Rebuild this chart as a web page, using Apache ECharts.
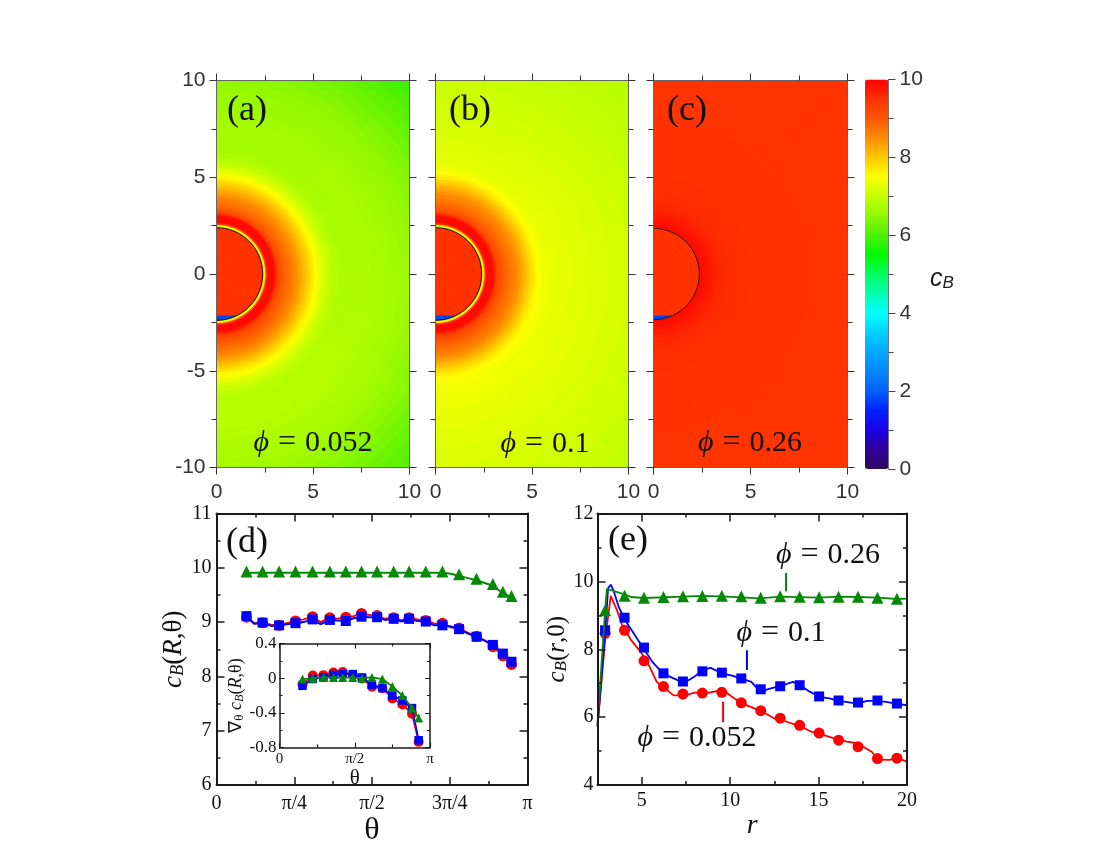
<!DOCTYPE html>
<html><head><meta charset="utf-8">
<style>html,body{margin:0;padding:0;background:#fff}#c{width:1100px;height:850px}</style>
<script src="https://cdn.jsdelivr.net/npm/echarts@6/dist/echarts.min.js"></script>
</head><body><div id="c"></div>
<script>
// colour scale stops of the colour bar, 0 to 10 in steps of 0.5
const colourStops = ['#2c0a5e','#300098','#1c00e8','#0020ff','#0060ff','#0088ff','#00a8ff','#00d0ff','#00ffff','#00ffb0','#00ff60','#00fa00','#4cf000','#90f800','#c4ff00','#ffff00','#ffc800','#ff8c00','#ff5800','#ff3200','#ff0000'];
// panels a-c: [outer radius, c_B], outermost first
const ringsA = [[14.4,5.98],[14,6.03],[13.5,6.1],[13,6.18],[12.5,6.26],[12,6.34],[11.5,6.43],[11,6.5],[10.5,6.58],[10,6.64],[9.5,6.68],[9,6.72],[8.5,6.76],[8,6.8],[7.5,6.8],[7,6.78],[6.6,6.8],[6.3,6.86],[6,6.95],[5.8,7.05],[5.6,7.2],[5.4,7.36],[5.2,7.52],[5.05,7.66],[4.9,7.82],[4.75,7.98],[4.6,8.12],[4.45,8.26],[4.3,8.4],[4.15,8.52],[4,8.64],[3.85,8.74],[3.7,8.84],[3.55,8.94],[3.4,9.06],[3.3,9.16],[3.2,9.28],[3.12,9.44],[3.06,9.7],[2.98,9.9],[2.62,9.75],[2.58,9.1],[2.51,7.6],[2.46,7.3],[2.42,6.7],[2.39,9.5]];
const ringsB = [[14.4,6.95],[13,7],[12,7.05],[11,7.1],[10,7.15],[9,7.2],[8,7.25],[7,7.3],[6.3,7.33],[5.8,7.38],[5.5,7.45],[5.3,7.55],[5.15,7.68],[5,7.82],[4.85,7.98],[4.7,8.12],[4.55,8.26],[4.4,8.4],[4.25,8.52],[4.1,8.64],[3.9,8.74],[3.75,8.84],[3.6,8.94],[3.45,9.06],[3.32,9.16],[3.22,9.28],[3.14,9.44],[3.07,9.7],[2.98,9.9],[2.62,9.75],[2.58,9.1],[2.51,7.6],[2.46,7.3],[2.42,6.7],[2.39,9.5]];
const ringsC = [[14.4,9.48],[8,9.5],[5,9.52],[4.2,9.54],[3.8,9.57],[3.5,9.62],[3.25,9.68],[3.05,9.74],[2.85,9.8],[2.65,9.85],[2.45,9.9],[2.36,9.5]];
// c_B change per 15 degree sector, from +y round to -y
const sectorTrimA = [-0.1,-0.1,-0.09,-0.07,-0.05,-0.02,0,0.02,0.05,0.07,0.08,0.08];
const sectorTrimB = [-0.08,-0.08,-0.07,-0.05,-0.03,-0.01,0,0.01,0.03,0.04,0.05,0.05];
const sectorTrimC = [0,0,0,0,0,0,0,0,0,0,0,0];
// particle: [radius, y of cap edge, c_B of cap]
const discA = [[2.39,-2.15,1.8]];
const discB = [[2.39,-2.15,1.8]];
const discC = [[2.36,-2.15,1.8]];

// panel d
const thetaRed = [0.303,0.465,0.632,0.798,0.97,1.145,1.306,1.465,1.622,1.79,1.945,2.114,2.282,2.45,2.627,2.792,2.893,2.98];
const dRed = [9.09,8.99,8.94,9.02,9.1,9.08,9.09,9.16,9.12,9.08,9.08,9.03,8.98,8.89,8.74,8.55,8.38,8.22];
const dBlue = [9.11,8.99,8.94,8.98,9.05,9.04,9.02,9.1,9.09,9.06,9.06,9.01,8.94,8.87,8.73,8.58,8.42,8.27];
const dGreen = [9.93,9.93,9.93,9.93,9.93,9.93,9.93,9.93,9.93,9.93,9.93,9.93,9.93,9.88,9.8,9.7,9.56,9.48];
const dLineTheta = [0.303,0.38,0.465,0.55,0.632,0.71,0.798,0.88,0.97,1.05,1.145,1.22,1.306,1.385,1.465,1.54,1.622,1.7,1.79,1.87,1.945,2.03,2.114,2.2,2.282,2.37,2.45,2.54,2.627,2.71,2.792,2.893,2.98];
const dLineRed = [9.09,8.98,8.99,8.95,8.94,8.98,9.02,9.05,9.1,9,9.08,9.06,9.09,9.11,9.16,9.13,9.12,9.06,9.08,9.03,9.08,9.05,9.03,8.97,8.98,8.9,8.89,8.8,8.74,8.66,8.55,8.38,8.22];
const dLineBlue = [9.11,8.97,8.99,8.93,8.94,8.96,8.98,9,9.05,8.96,9.04,9.03,9.02,9.07,9.1,9.09,9.09,9.04,9.06,9.01,9.06,9.02,9.01,8.94,8.94,8.92,8.87,8.79,8.73,8.66,8.58,8.42,8.27];
const dLineGreen = [9.91,9.91,9.91,9.91,9.91,9.91,9.91,9.91,9.91,9.91,9.91,9.91,9.91,9.91,9.91,9.91,9.91,9.91,9.91,9.91,9.91,9.91,9.91,9.91,9.91,9.89,9.85,9.81,9.77,9.72,9.67,9.53,9.46];
const thetaTickLabels = ['0','π/4','π/2','3π/4','π'];

// inset of panel d
const insetTheta = [0.48,0.695,0.917,1.126,1.32,1.53,1.724,1.93,2.148,2.356,2.565,2.766,2.905];
const insetRed = [-0.07,0.03,0.035,0.065,0.07,0.04,-0.004,-0.1,-0.115,-0.234,-0.303,-0.41,-0.735];
const insetBlue = [-0.088,-0.01,0.01,0.038,0.046,0.046,0.008,-0.077,-0.115,-0.2,-0.257,-0.345,-0.716];
const insetGreen = [-0.01,0,0.008,0.008,0.008,0.008,0,0.008,-0.01,-0.096,-0.2,-0.345,-0.46];
const insetTickLabels = ['0','π/2','π'];

// panel e
const rMajorTicks = [5,10,15,20];
const rMinorTicks = [7.5,12.5,17.5];
const rMarks = [2.93,4.03,5.13,6.23,7.33,8.43,9.53,10.63,11.73,12.83,13.93,15.03,16.13,17.23,18.33,19.43];
const eRed = [8.47,8.56,7.66,6.9,6.68,6.71,6.73,6.42,6.19,5.97,5.76,5.53,5.32,5.13,4.78,4.79];
const eBlue = [8.56,8.93,8.05,7.29,7.05,7.35,7.31,7.14,6.82,6.91,6.94,6.61,6.49,6.43,6.49,6.40];
const eGreen = [9.15,9.58,9.52,9.54,9.56,9.57,9.58,9.56,9.52,9.56,9.55,9.53,9.55,9.55,9.52,9.49];
const eLineRedR = [2.5,2.93,3.25,3.6,3.9,4.4,5,5.4,5.85,6.3,6.8,7.5,8,8.8,9.6,10.1,10.7,11.4,11.85,12.5,13,14,14.6,15.3,16.1,16.6,17.2,18,18.4,19,19.45,20];
const eLineRed = [5.72,8.27,9.57,9.15,8.7,8.27,7.88,7.53,7.04,6.85,6.64,6.65,6.72,6.72,6.8,6.6,6.4,6.25,6.16,5.96,5.9,5.72,5.57,5.47,5.34,5.28,5.23,4.98,4.75,4.74,4.79,4.69];
const eLineBlueR = [2.5,2.93,3.1,3.25,3.4,3.7,4.05,4.5,5.1,5.6,6.2,6.8,7.4,8,8.45,8.9,9.5,10.1,10.6,11.2,11.7,12.2,12.8,13.55,13.95,14.5,15.05,15.6,16.15,17.2,17.75,18.3,18.8,19.4,20];
const eLineBlue = [5.72,8.47,9.8,9.9,9.74,9.25,8.86,8.51,8.02,7.63,7.29,7.14,7.01,7.2,7.39,7.45,7.3,7.22,7.14,7.04,6.75,6.83,6.91,7.04,6.94,6.75,6.6,6.55,6.48,6.4,6.48,6.48,6.45,6.4,6.35];
const eLineGreenR = [2.5,2.93,3.03,4.03,4.4,5.13,7.33,8.43,9.53,11.7,12.83,15,16.13,17.23,18.33,19.43,20];
const eLineGreen = [5.8,9.15,9.78,9.62,9.54,9.51,9.55,9.57,9.56,9.5,9.55,9.52,9.55,9.54,9.52,9.48,9.49];
const markerGreen = [[13.16,10.25],[13.16,9.71]];
const markerBlue = [[10.95,7.97],[10.95,7.39]];
const markerRed = [[9.6,6.45],[9.6,5.86]];

const RED='#ff0000', BLUE='#0000ff', GREEN='#068a06';
const SANS='"Liberation Sans",Arial,sans-serif', SERIF='"Liberation Serif","Times New Roman",serif';
const zip=(a,b)=>a.map((v,i)=>[v,b[i]]);

const grid=[
 {left:216.5,top:80.5,width:193,height:387},
 {left:435.5,top:80.5,width:193,height:387},
 {left:653.5,top:80.5,width:194,height:387},
 {left:865,top:79.5,width:23.5,height:389.5},
 {left:216.5,top:513.5,width:311,height:271.5},
 {left:279.5,top:643.5,width:150.5,height:104},
 {left:597.5,top:513.5,width:309.5,height:271.5},
 {left:597.5,top:513.5,width:309.5,height:271.5}
];
const xAxis=[], yAxis=[];
function heatAxes(g,showY){
  const lineC='#666',tickC='#333';
  const base={gridIndex:g,type:'value',min:0,max:10,interval:5,splitLine:{show:false},z:10,
    minorTick:{show:true,splitNumber:2,length:5,lineStyle:{color:tickC,width:1}},
    axisTick:{show:true,inside:false,length:7,lineStyle:{color:tickC,width:1}},
    axisLine:{show:true,onZero:false,lineStyle:{color:lineC,width:1}}};
  xAxis.push({...base,position:'bottom',axisLabel:{show:true,fontFamily:SANS,fontSize:21,color:'#333',margin:14}});
  xAxis.push({...base,position:'top',axisLabel:{show:false}});
  yAxis.push({...base,min:-10,max:10,position:'left',axisLabel:{show:showY,fontFamily:SANS,fontSize:21,color:'#333',margin:11}});
  yAxis.push({...base,min:-10,max:10,position:'right',axisLabel:{show:false}});
}
heatAxes(0,true);heatAxes(1,false);heatAxes(2,false);
// colour bar axis
xAxis.push({gridIndex:3,type:'value',min:0,max:1,show:false});
xAxis.push({gridIndex:3,type:'value',min:0,max:1,show:false});
yAxis.push({gridIndex:3,type:'value',min:0,max:10,interval:2,position:'right',splitLine:{show:false},z:10,
  axisLine:{show:true,onZero:false,lineStyle:{color:'#777',width:1}},
  axisTick:{show:true,length:7,lineStyle:{color:'#444'}},
  minorTick:{show:true,splitNumber:2,length:5,lineStyle:{color:'#444'}},
  axisLabel:{fontFamily:SANS,fontSize:21,color:'#333',margin:11}});
yAxis.push({gridIndex:3,type:'value',min:0,max:10,show:false});
function graceAxes(g,x,y,fs,lw,major,minor){
  const line={show:true,onZero:false,lineStyle:{color:'#1a1a1a',width:lw}};
  const tick={show:true,inside:true,length:major,lineStyle:{color:'#1a1a1a',width:lw*0.75}};
  const mt={show:true,splitNumber:2,length:minor,lineStyle:{color:'#1a1a1a',width:lw*0.75}};
  const lab={fontFamily:SERIF,fontSize:fs,color:'#111'};
  const xTick={...tick,...(x.tickValues?{customValues:x.tickValues}:{})};
  const xMinor=x.tickValues?{show:false}:mt;
  const {tickValues,...xRest}=x;
  xAxis.push({gridIndex:g,type:'value',position:'bottom',splitLine:{show:false},z:10,axisLine:line,...xRest,axisTick:xTick,minorTick:xMinor,axisLabel:{...lab,...x.axisLabel}});
  xAxis.push({gridIndex:g,type:'value',position:'top',splitLine:{show:false},z:10,axisLine:line,axisTick:xTick,minorTick:xMinor,min:x.min,max:x.max,interval:x.interval,axisLabel:{show:false}});
  yAxis.push({gridIndex:g,type:'value',position:'left',splitLine:{show:false},z:10,axisLine:line,axisTick:tick,minorTick:mt,...y,axisLabel:{...lab,...y.axisLabel}});
  yAxis.push({gridIndex:g,type:'value',position:'right',splitLine:{show:false},z:10,axisLine:line,axisTick:tick,minorTick:mt,min:y.min,max:y.max,interval:y.interval,axisLabel:{show:false}});
}
const ylabRich=(fs)=>({i:{fontFamily:SERIF,fontStyle:'italic',fontSize:fs,color:'#111'},s:{fontFamily:SERIF,fontStyle:'italic',fontSize:fs*0.68,color:'#111',verticalAlign:'bottom',padding:[fs*0.3,0,0,0]},n:{fontFamily:SERIF,fontSize:fs,color:'#111'}});
graceAxes(4,
 {min:0,max:Math.PI,interval:Math.PI/4,name:'θ',nameLocation:'middle',nameGap:24,nameTextStyle:{fontFamily:SERIF,fontSize:32,color:'#111'},
  axisLabel:{margin:9,formatter:v=>thetaTickLabels[Math.round(v/(Math.PI/4))]}},
 {min:6,max:11,interval:1,name:'{i|c}{s|B}{n|(}{i|R}{n|,θ)}',nameLocation:'middle',nameGap:26,nameRotate:90,nameTextStyle:{rich:ylabRich(27)},axisLabel:{margin:5}},
 20,2,8,4);
graceAxes(5,
 {min:0,max:Math.PI,interval:Math.PI/2,name:'θ',nameLocation:'middle',nameGap:20,nameTextStyle:{fontFamily:SERIF,fontSize:21,color:'#111'},
  axisLabel:{margin:4,fontSize:15,formatter:v=>insetTickLabels[Math.round(v/(Math.PI/2))]}},
 {min:-0.8,max:0.4,interval:0.4,name:'∇{ss|θ} {i|c}{s|B}{n|(}{i|R}{n|,θ)}',nameLocation:'middle',nameGap:30,nameRotate:90,nameTextStyle:{fontFamily:SERIF,fontSize:18,color:'#111',rich:{...ylabRich(18),ss:{fontFamily:SERIF,fontSize:13,color:'#111',verticalAlign:'bottom'}}},axisLabel:{margin:3,fontSize:17}},
 17,1.5,5,3);
graceAxes(6,
 {min:2.5,max:20,interval:2.5,tickValues:rMajorTicks,name:'r',nameLocation:'middle',nameGap:17,nameTextStyle:{fontFamily:SERIF,fontStyle:'italic',fontSize:28,color:'#111'},
  axisLabel:{margin:6,customValues:rMajorTicks}},
 {min:4,max:12,interval:2,name:'{i|c}{s|B}{n|(}{i|r}{n|,0)}',nameLocation:'middle',nameGap:22,nameRotate:90,nameTextStyle:{rich:ylabRich(25)},axisLabel:{margin:4}},
 20,2,8,4);
// minor r ticks of panel e
const minorRTick={show:true,inside:true,length:4,customValues:rMinorTicks,lineStyle:{color:'#1a1a1a',width:1.5}};
xAxis.push({gridIndex:7,type:'value',position:'bottom',min:2.5,max:20,splitLine:{show:false},axisLine:{show:false,onZero:false},axisTick:minorRTick,axisLabel:{show:false},z:10});
xAxis.push({gridIndex:7,type:'value',position:'top',min:2.5,max:20,splitLine:{show:false},axisLine:{show:false,onZero:false},axisTick:minorRTick,axisLabel:{show:false},z:10});
yAxis.push({gridIndex:7,type:'value',min:4,max:12,show:false});
yAxis.push({gridIndex:7,type:'value',min:4,max:12,show:false});

// axis index helper: grid g -> x index g*2, y index g*2
const series=[];
function ringSeries(g,rings,trim){
  const cells=[];
  rings.forEach(([r,v])=>{
    trim.forEach((t,s)=>cells.push([r,s,r>3.1?+(v+t).toFixed(3):v,trim.length]));
  });
  series.push({type:'custom',xAxisIndex:g*2,yAxisIndex:g*2,clip:true,silent:true,animation:false,progressive:0,
    dimensions:['r','sector','cB','n'],data:cells,z:1,
    renderItem(params,api){
      const r=api.value(0),s=api.value(1),n=api.value(3),pts=[api.coord([0,0])];
      const a0=s/n*Math.PI,a1=(s+1)/n*Math.PI;
      for(let i=0;i<=6;i++){const a=a0+(a1-a0)*i/6;pts.push(api.coord([r*Math.sin(a),r*Math.cos(a)]));}
      const c=api.visual('color');
      return {type:'polygon',shape:{points:pts},style:{fill:c,stroke:c,lineWidth:0.8}};
    }});
}
function discSeries(g,disc){
  series.push({type:'custom',xAxisIndex:g*2,yAxisIndex:g*2,clip:true,silent:true,animation:false,
    dimensions:['r','edge','cB'],data:disc,z:2,
    renderItem(params,api){
      const r=api.value(0),e=api.value(1);
      const arc=[];for(let i=0;i<=90;i++){const a=i/90*Math.PI;arc.push(api.coord([r*Math.sin(a),r*Math.cos(a)]));}
      const xe=Math.sqrt(r*r-e*e),cap=[api.coord([0,e])];
      const aEnd=Math.atan2(xe,e);
      for(let i=0;i<=16;i++){const a=aEnd+(Math.PI-aEnd)*i/16;cap.push(api.coord([r*Math.sin(a),r*Math.cos(a)]));}
      return {type:'group',children:[
        {type:'polygon',shape:{points:cap},style:{fill:api.visual('color')}},
        {type:'polyline',shape:{points:arc},style:{fill:'none',stroke:'#0a0a0a',lineWidth:0.9}}
      ]};
    }});
}
ringSeries(0,ringsA,sectorTrimA);ringSeries(1,ringsB,sectorTrimB);ringSeries(2,ringsC,sectorTrimC);
discSeries(0,discA);discSeries(1,discB);discSeries(2,discC);

function line(g,data,color,w,z){
  series.push({type:'line',xAxisIndex:g*2,yAxisIndex:g*2,data,symbol:'none',silent:true,animation:false,z:z||3,lineStyle:{color,width:w}});
}
function marks(g,data,symbol,size,color,z){
  series.push({type:'scatter',xAxisIndex:g*2,yAxisIndex:g*2,data,symbol,symbolSize:size,silent:true,animation:false,z:z||4,itemStyle:{color,opacity:1}});
}
// panel d
line(4,zip(dLineTheta,dLineRed),RED,2);marks(4,zip(thetaRed,dRed),'circle',11,RED);
line(4,zip(dLineTheta,dLineBlue),BLUE,2,5);marks(4,zip(thetaRed,dBlue),'rect',10,BLUE,6);
line(4,zip(dLineTheta,dLineGreen),GREEN,2,5);marks(4,zip(thetaRed,dGreen),'triangle',12,GREEN,6);
// inset
line(5,zip(insetTheta,insetRed),RED,1.8,7);marks(5,zip(insetTheta,insetRed),'circle',10,RED,7);
line(5,zip(insetTheta,insetBlue),BLUE,1.8,8);marks(5,zip(insetTheta,insetBlue),'rect',8.5,BLUE,8);
line(5,zip(insetTheta,insetGreen),GREEN,1.8,9);marks(5,zip(insetTheta,insetGreen),'triangle',9,GREEN,9);
// panel e
line(6,zip(eLineRedR,eLineRed),RED,1.8);marks(6,zip(rMarks,eRed),'circle',11,RED);
line(6,zip(eLineBlueR,eLineBlue),BLUE,1.8,5);marks(6,zip(rMarks,eBlue),'rect',10,BLUE,6);
line(6,zip(eLineGreenR,eLineGreen),GREEN,1.8,7);marks(6,zip(rMarks,eGreen),'triangle',12,GREEN,8);
line(6,markerGreen,GREEN,2);line(6,markerBlue,BLUE,2);line(6,markerRed,RED,2);

function phi(val,x,y){
  return {type:'text',z:20,silent:true,style:{x,y,text:'{p|ϕ}{e|=}{d|'+val+'}',font:'30px '+SERIF,fill:'#111',align:'center',verticalAlign:'middle',
    rich:{p:{fontFamily:SERIF,fontStyle:'italic',fontSize:30,fill:'#111'},
          e:{fontFamily:SERIF,fontSize:32,fill:'#111',padding:[0,9,0,9]},
          d:{fontFamily:SERIF,fontSize:30,fill:'#111'}}}};
}
function letter(t,x,y){
  return {type:'text',z:20,silent:true,style:{x,y,text:t,font:'36px '+SERIF,fill:'#111',align:'center',verticalAlign:'middle'}};
}
const graphic=[letter('(a)',247,111),letter('(b)',470,111),letter('(c)',687,111),letter('(d)',247,543),letter('(e)',628,541),
 phi('0.052',313,443),phi('0.1',545,444),phi('0.26',750,443),phi('0.26',828,555),phi('0.1',781,633),phi('0.052',697,738),
 {type:'text',z:20,silent:true,style:{x:942,y:279,text:'{c|c}{b|B}',align:'center',verticalAlign:'middle',
   rich:{c:{fontFamily:SANS,fontStyle:'italic',fontSize:25,fill:'#222'},b:{fontFamily:SANS,fontStyle:'italic',fontSize:17,fill:'#222',verticalAlign:'bottom',padding:[8,0,0,0]}}}}
];

const chart=echarts.init(document.getElementById('c'),null,{renderer:'canvas'});
chart.setOption({animation:false,backgroundColor:'#fff',grid,xAxis,yAxis,series,graphic:{elements:graphic},
 visualMap:[{type:'continuous',min:0,max:10,dimension:2,seriesIndex:[0,1,2,3,4,5],left:865,top:79.5,itemWidth:23.5,itemHeight:389.5,padding:0,
  calculable:false,hoverLink:false,inRange:{color:colourStops},textStyle:{color:'transparent'},show:true}]
});
</script></body></html>
